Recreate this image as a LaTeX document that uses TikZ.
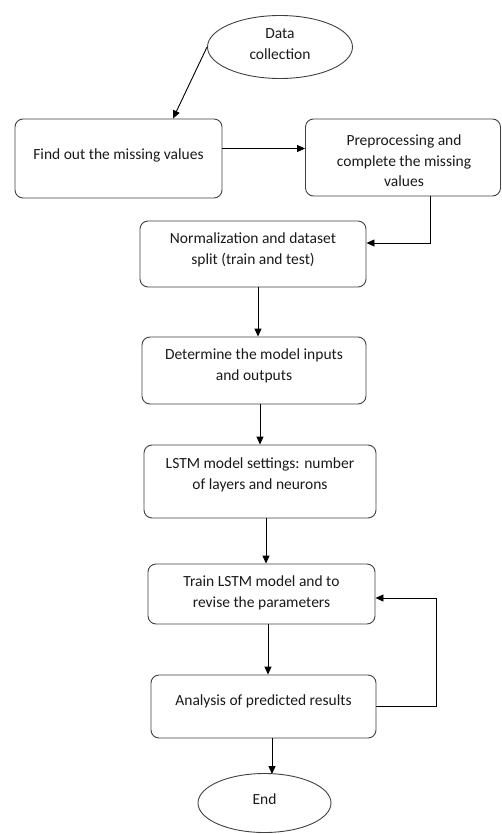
\documentclass[tikz,border=0pt]{standalone}
\usepackage{fontspec}
\setmainfont{Carlito}
\usetikzlibrary{shapes.geometric,arrows.meta}
\tikzset{
  box/.style={draw=black!75, line width=0.9pt, rounded corners=8pt, rectangle},
  oval/.style={draw=black!75, line width=0.9pt, ellipse},
  txt/.style={align=center, inner sep=0pt, text=black!90, font=\fontsize{15.5}{20.5}\selectfont},
  arr/.style={draw=black, line width=0.9pt, -{Triangle[length=8pt,width=7pt]}},
  ln/.style={draw=black, line width=0.9pt}
}
\begin{document}
\begin{tikzpicture}[x=1pt,y=-1pt]
\useasboundingbox (0,0) rectangle (502,834);
% shapes
\node[oval, minimum width=145pt, minimum height=63pt] (e1) at (280,47) {};
\node[box, minimum width=207pt, minimum height=79pt] (b1) at (118.5,158.5) {};
\node[box, minimum width=195pt, minimum height=77pt] (b2) at (403,157.5) {};
\node[box, minimum width=226pt, minimum height=66pt] (b3) at (253,254) {};
\node[box, minimum width=224pt, minimum height=67pt] (b4) at (254,370.5) {};
\node[box, minimum width=232pt, minimum height=73pt] (b5) at (260,481.5) {};
\node[box, minimum width=227pt, minimum height=60pt] (b6) at (261.5,594) {};
\node[box, minimum width=225pt, minimum height=63pt] (b7) at (263.5,706.5) {};
\node[oval, minimum width=133pt, minimum height=59pt] (e2) at (264.5,803) {};
% texts
\node[txt] (t1) at (280,44) {Data\\collection};
\node[txt] (t2) at (118.5,155) {Find out the missing values};
\node[txt] (t3) at (404,161) {Preprocessing and\\complete the missing\\values};
\node[txt] (t4) at (253,250) {Normalization and dataset\\split (train and test)};
\node[txt] (t5) at (254,366) {Determine the model inputs\\and outputs};
\node[txt] (t6) at (260,475) {LSTM model settings: number\\of layers and neurons};
\node[txt] (t7) at (261.5,593) {Train LSTM model and to\\revise the parameters};
\node[txt] (t8) at (263.5,701) {Analysis of predicted results};
\node[txt] (t9) at (264.5,799) {End};
% connectors
\draw[arr] (e1.west) -- ([xshift=54.5pt]b1.north);
\draw[arr] ([yshift=10pt]b1.east) -- ([yshift=10pt]b1.east -| b2.west);
\draw[arr] ([xshift=27pt]b2.south) |- ([yshift=11pt]b3.east);
\draw[arr] ([xshift=5pt]b3.south) -- ([xshift=5pt]b3.south |- b4.north);
\draw[arr] ([xshift=6pt]b4.south) -- ([xshift=6pt]b4.south |- b5.north);
\draw[arr] ([xshift=6pt]b5.south) -- ([xshift=6pt]b5.south |- b6.north);
\draw[arr] ([xshift=6.5pt]b6.south) -- ([xshift=6.5pt]b6.south |- b7.north);
\draw[arr] ([xshift=8.5pt]b7.south) -- ([xshift=8.5pt,yshift=-1pt]b7.south |- e2.north);
\draw[arr] (b7.east) -- ++(60,0) |- ([yshift=-4pt]b6.east);
\end{tikzpicture}
\end{document}
